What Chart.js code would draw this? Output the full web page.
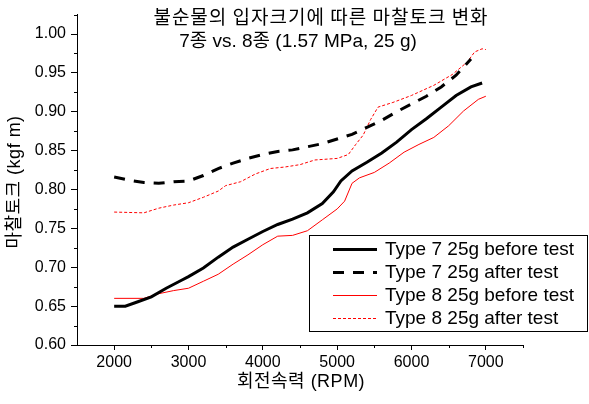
<!DOCTYPE html>
<html>
<head>
<meta charset="utf-8">
<script src="https://cdn.jsdelivr.net/npm/chart.js@4.4.1/dist/chart.umd.min.js"></script>
<style>
  html, body { margin: 0; padding: 0; background: #fff; }
  #wrap { width: 589px; height: 404px; position: relative; }
</style>
</head>
<body>
<div id="wrap"><canvas id="c" width="589" height="404"></canvas></div>
<script>
// ---- Data ----
const titleLines = ['불순물의 입자크기에 따른 마찰토크 변화', '7종 vs. 8종 (1.57 MPa, 25 g)'];
const xAxisTitle = '회전속력 (RPM)';
const yAxisTitle = '마찰토크 (kgf m)';
const seriesNames = ['Type 7 25g before test', 'Type 7 25g after test', 'Type 8 25g before test', 'Type 8 25g after test'];

const rpm7Before = [2000, 2150, 2300, 2500, 2700, 2900, 3000, 3200, 3400, 3600, 3800, 4000, 4200, 4400, 4600, 4800, 4950, 5050, 5200, 5400, 5600, 5800, 6000, 6200, 6400, 6600, 6800, 6950];
const torque7Before = [0.650, 0.650, 0.655, 0.662, 0.673, 0.683, 0.688, 0.699, 0.713, 0.726, 0.736, 0.746, 0.755, 0.762, 0.770, 0.782, 0.797, 0.811, 0.824, 0.835, 0.847, 0.861, 0.877, 0.891, 0.906, 0.921, 0.932, 0.937];

const rpm7After = [2000, 2200, 2400, 2600, 2800, 3000, 3200, 3400, 3600, 3800, 4000, 4200, 4400, 4600, 4800, 5000, 5200, 5400, 5600, 5800, 6000, 6200, 6400, 6600, 6800];
const torque7After = [0.816, 0.812, 0.809, 0.808, 0.810, 0.811, 0.818, 0.827, 0.834, 0.840, 0.845, 0.849, 0.851, 0.855, 0.859, 0.865, 0.871, 0.880, 0.889, 0.900, 0.910, 0.920, 0.932, 0.947, 0.968];

const rpm8Before = [2000, 2400, 2600, 2800, 3000, 3200, 3400, 3600, 3800, 4000, 4200, 4400, 4600, 4800, 5000, 5100, 5200, 5300, 5500, 5700, 5900, 6100, 6300, 6500, 6700, 6900, 7000];
const torque8Before = [0.660, 0.660, 0.666, 0.670, 0.673, 0.682, 0.691, 0.704, 0.716, 0.729, 0.740, 0.741, 0.747, 0.761, 0.775, 0.785, 0.808, 0.815, 0.822, 0.834, 0.848, 0.858, 0.867, 0.882, 0.901, 0.916, 0.920];

const rpm8After = [2000, 2400, 2600, 2800, 3000, 3200, 3400, 3500, 3700, 3900, 4100, 4300, 4500, 4700, 5000, 5150, 5250, 5350, 5450, 5550, 5750, 6000, 6300, 6550, 6750, 6850, 6950, 7000];
const torque8After = [0.771, 0.770, 0.776, 0.780, 0.783, 0.790, 0.798, 0.805, 0.810, 0.820, 0.827, 0.829, 0.832, 0.838, 0.840, 0.845, 0.858, 0.870, 0.890, 0.906, 0.912, 0.921, 0.934, 0.948, 0.964, 0.977, 0.981, 0.980];

const xMajorTicks = [2000, 3000, 4000, 5000, 6000, 7000];
const xMinorTicks = [2500, 3500, 4500, 5500, 6500, 7500];
const yMajorTicks = [0.60, 0.65, 0.70, 0.75, 0.80, 0.85, 0.90, 0.95, 1.00];
const yMinorTicks = [0.625, 0.675, 0.725, 0.775, 0.825, 0.875, 0.925, 0.975, 1.025];

// ---- Build ----
const toPts = (xs, ys) => xs.map((x, i) => ({ x: x, y: ys[i] }));
const FONT = '"Liberation Sans", Arial, "Noto Sans CJK KR", sans-serif';
const KFONT = '"Noto Sans CJK KR", "Liberation Sans", sans-serif';

const datasets = [
  { label: seriesNames[0], data: toPts(rpm7Before, torque7Before), borderColor: '#000', borderWidth: 3, borderDash: [] },
  { label: seriesNames[1], data: toPts(rpm7After, torque7After), borderColor: '#000', borderWidth: 3, borderDash: [11, 9] },
  { label: seriesNames[2], data: toPts(rpm8Before, torque8Before), borderColor: '#ff0000', borderWidth: 1, borderDash: [] },
  { label: seriesNames[3], data: toPts(rpm8After, torque8After), borderColor: '#ff0000', borderWidth: 1, borderDash: [3, 2] }
].map(d => Object.assign(d, { showLine: true, pointRadius: 0, tension: 0, fill: false }));

const overlay = {
  id: 'overlay',
  afterDraw(chart) {
    const ctx = chart.ctx;
    const xs = chart.scales.x, ys = chart.scales.y;
    ctx.save();
    // minor ticks
    ctx.strokeStyle = '#000';
    ctx.lineWidth = 1;
    ctx.setLineDash([]);
    ctx.beginPath();
    xMinorTicks.forEach(v => {
      const p = Math.round(xs.getPixelForValue(v)) + 0.5;
      ctx.moveTo(p, chart.chartArea.bottom);
      ctx.lineTo(p, chart.chartArea.bottom + 3);
    });
    yMinorTicks.forEach(v => {
      const p = Math.round(ys.getPixelForValue(v)) + 0.5;
      ctx.moveTo(chart.chartArea.left, p);
      ctx.lineTo(chart.chartArea.left - 3, p);
    });
    ctx.stroke();

    // titles
    ctx.fillStyle = '#000';
    ctx.textAlign = 'center';
    ctx.textBaseline = 'middle';
    ctx.font = '19px ' + KFONT;
    ctx.letterSpacing = '1px';
    ctx.fillText(titleLines[0], 321, 17);
    ctx.letterSpacing = '0px';
    ctx.font = '19px ' + FONT;
    ctx.fillText(titleLines[1], 298, 42);

    // axis titles
    ctx.font = '18px ' + FONT;
    ctx.letterSpacing = '0.5px';
    ctx.fillText(xAxisTitle, 301, 382);
    ctx.save();
    ctx.translate(15, 182);
    ctx.rotate(-Math.PI / 2);
    ctx.fillText(yAxisTitle, 0, 0);
    ctx.restore();
    ctx.letterSpacing = '0px';

    // legend box
    const bx = 309.5, by = 235.5, bw = 278, bh = 96;
    ctx.fillStyle = '#fff';
    ctx.fillRect(bx, by, bw, bh);
    ctx.strokeStyle = '#000';
    ctx.lineWidth = 1;
    ctx.strokeRect(bx, by, bw, bh);
    const rows = [249, 272, 295, 318];
    chart.data.datasets.forEach((d, i) => {
      ctx.strokeStyle = d.borderColor;
      ctx.lineWidth = d.borderWidth;
      ctx.setLineDash(d.borderDash || []);
      ctx.beginPath();
      ctx.moveTo(333, rows[i] + 0.5);
      ctx.lineTo(377, rows[i] + 0.5);
      ctx.stroke();
      ctx.setLineDash([]);
      ctx.fillStyle = '#000';
      ctx.textAlign = 'left';
      ctx.font = '19px ' + FONT;
      ctx.fillText(d.label, 385, rows[i] + 1);
    });
    ctx.restore();
  }
};

new Chart(document.getElementById('c'), {
  type: 'scatter',
  data: { datasets: datasets },
  options: {
    responsive: false,
    animation: false,
    devicePixelRatio: 1,
    layout: { padding: { top: 14, right: 66, bottom: 0, left: 0 } },
    plugins: { legend: { display: false }, title: { display: false }, tooltip: { enabled: false } },
    scales: {
      x: {
        type: 'linear', min: 1500, max: 7500,
        afterFit(s) { s.height = 59; },
        afterBuildTicks(s) { s.ticks = xMajorTicks.map(v => ({ value: v })); },
        border: { display: true, color: '#000', width: 1 },
        grid: { drawOnChartArea: false, drawTicks: true, tickLength: 5, color: '#000' },
        ticks: { color: '#000', padding: 3, font: { family: FONT, size: 16 }, maxRotation: 0, callback: v => String(v) }
      },
      y: {
        type: 'linear', min: 0.60, max: 1.025,
        afterFit(s) { s.width = 77; },
        afterBuildTicks(s) { s.ticks = yMajorTicks.map(v => ({ value: v })); },
        border: { display: true, color: '#000', width: 1 },
        grid: { drawOnChartArea: false, drawTicks: true, tickLength: 6, color: '#000' },
        ticks: { color: '#000', padding: 5, font: { family: FONT, size: 16 }, callback: v => v.toFixed(2) }
      }
    }
  },
  plugins: [overlay]
});
</script>
</body>
</html>
